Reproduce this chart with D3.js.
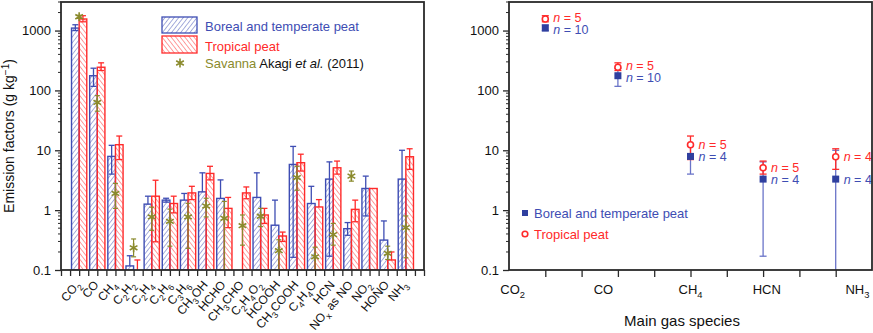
<!DOCTYPE html>
<html>
<head>
<meta charset="utf-8">
<script src="https://cdn.jsdelivr.net/npm/d3@7"></script>
<style>
  body { margin: 0; background: #fff; }
  svg { font-family: "Liberation Sans", Arial, sans-serif; }
</style>
</head>
<body>
<svg width="873" height="333"></svg>
<script>
// species on the left panel ("_" marks a one-char subscript)
let species = ["CO_2", "CO", "CH_4", "C_2H_2", "C_2H_4", "C_2H_6", "C_3H_6", "CH_3OH", "HCHO", "CH_3CHO",
  "C_2H_4O_2", "HCOOH", "CH_3COOH", "C_4H_4O", "HCN", "NO_x as NO", "NO_2", "HONO", "NH_3"]

let borealEF = [1100, 176, 7.9, 0.117, 1.26, 1.47, 1.47, 2.02, 1.57, null, 1.63, 0.56, 5.8, 1.29, 3.3, 0.49, 2.3, 0.316, 3.3]
let borealLo = [1000, 117, 4.0, null, null, 1.36, null, null, null, null, null, null, 0.163, null, 0.17, 0.38, 0.8, null, 0.05]
let borealHi = [1250, 235, 12.1, 0.173, 1.71, 1.58, 1.9, 4.2, 3.2, null, 4.2, 1.47, 11.6, 2.5, 6.4, 0.62, 3.7, 0.66, 10]

let tropicalEF = [1560, 244, 12.4, 0.1, 1.71, 1.29, 1.94, 4.1, 1.07, 1.94, 0.83, 0.37, 6.2, 1.13, 5.1, 1.03, 2.3, 0.147, 7.8]
let tropicalLo = [1400, 215, 7.0, null, 0.296, 0.9, 1.5, 3.2, 0.51, 1.55, 0.6, 0.3, 4.5, null, 4.0, 0.64, null, null, 4.8]
let tropicalHi = [1770, 289, 17.3, 0.147, 3.16, 1.71, 2.5, 5.4, 1.63, 2.44, 1.07, 0.43, 8.6, 1.5, 6.6, 1.47, null, 0.2, 10.6]

let savannaEF = [1700, 63, 1.9, 0.235, 0.77, 0.65, 0.77, 1.17, 0.73, 0.55, 0.79, 0.21, 3.5, 0.166, 0.39, 3.7, null, 0.19, 0.51]
let savannaLo = [1600, 45, 1.07, 0.166, 0.46, 0.25, 0.23, 0.77, 0.1, 0.26, 0.53, 0.1, 2.15, 0.1, 0.26, 3.05, null, 0.15, 0.16]
let savannaHi = [1800, 82, 2.8, 0.33, 1.12, 1.04, 1.3, 1.58, 1.4, 0.83, 1.07, 0.32, 5.4, 0.24, 0.6, 4.5, null, 0.25, 0.8]

// right panel: main gases, taken from the arrays above
let mainGases = ["CO_2", "CO", "CH_4", "HCN", "NH_3"]
let mainPos = [1, 3, 5, 7, 9]
let mainLabelPos = [0.1, 2.6, 5.0, 7.1, 9.6]
let borealN = [10, 10, 4, 4, 4]
let tropicalN = [5, 5, 5, 5, 4]

let yTicks = [0.1, 1, 10, 100, 1000]

let blue = "#3e4db3"
let red = "#ff2a2a"
let olive = "#8a8a2c"
let axisColor = "#2a2a2a"

let plotTop = 2
let plotBottom = 270

let svg = d3.select("svg")

// hatch patterns
let defs = svg.append("defs")
let makeHatch = (id, color, angle) => {
  let p = defs.append("pattern")
    .attr("id", id)
    .attr("patternUnits", "userSpaceOnUse")
    .attr("width", 3.6)
    .attr("height", 3.6)
    .attr("patternTransform", "rotate(" + angle + ")")
  p.append("line")
    .attr("x1", 0).attr("y1", 0).attr("x2", 0).attr("y2", 3.6)
    .attr("stroke", color)
    .attr("stroke-width", 0.9)
}
makeHatch("hatchBlue", blue, 38)
makeHatch("hatchRed", red, -38)

let formula = (sel, label, size) => {
  let shift = 0
  for (let i = 0; i < label.length; i++) {
    if (label[i] === "_") {
      sel.append("tspan")
        .attr("dy", size * 0.32 - shift)
        .attr("font-size", size * 0.72)
        .text(label[i + 1])
      shift = size * 0.32
      i++
    } else {
      let j = i
      while (j < label.length && label[j] !== "_") j++
      sel.append("tspan").attr("dy", -shift).text(label.slice(i, j))
      shift = 0
      i = j - 1
    }
  }
}

let yScale = d3.scaleLog().domain([0.1, 3000]).range([plotBottom, plotTop])

let minorTicks = []
;[0.1, 1, 10, 100, 1000].forEach(d => {
  for (let k = 2; k <= 9; k++) {
    if (d * k <= 3000) minorTicks.push(d * k)
  }
})

let drawYAxis = (x0) => {
  let g = svg.append("g").attr("transform", "translate(" + x0 + ",0)")
  g.call(d3.axisLeft(yScale).tickValues(yTicks).tickFormat(d => d < 1 ? "0.1" : d3.format("d")(d)).tickSize(6).tickPadding(4))
  g.selectAll(".domain").remove()
  g.selectAll("line").attr("stroke", axisColor).attr("stroke-width", 1.3)
  g.selectAll("text").attr("font-size", 13).attr("fill", "#111").style("font-family", "Liberation Sans, Arial")
  g.selectAll(".minor")
    .data(minorTicks)
    .enter()
    .append("line")
    .attr("x1", -3).attr("x2", 0)
    .attr("y1", d => yScale(d)).attr("y2", d => yScale(d))
    .attr("stroke", axisColor)
    .attr("stroke-width", 1)
}

// ---------- left panel ----------
let xLeft = d3.scaleLinear().domain([0, 20]).range([61, 424])
let halfBar = 0.42

drawYAxis(61)

let bottomTicks = d3.range(0, 20.01, 0.5)
let gx = svg.append("g").attr("transform", "translate(0," + plotBottom + ")")
gx.call(d3.axisBottom(xLeft).tickValues(bottomTicks).tickFormat("").tickSize(6))
gx.selectAll(".domain").remove()
gx.selectAll("line").attr("stroke", axisColor).attr("stroke-width", 1.3)

let idx = species.map((d, i) => i)

let clip = svg.append("clipPath").attr("id", "leftClip")
clip.append("rect").attr("x", 61).attr("y", plotTop).attr("width", 363).attr("height", plotBottom - plotTop)

let plot = svg.append("g").attr("clip-path", "url(#leftClip)")

let drawBars = (vals, offset, fill, color) => {
  plot.selectAll(null)
    .data(idx.filter(i => vals[i] !== null))
    .enter()
    .append("rect")
    .attr("x", i => xLeft(i + 1 + offset))
    .attr("width", xLeft(halfBar) - xLeft(0))
    .attr("y", i => yScale(vals[i]))
    .attr("height", i => plotBottom - yScale(vals[i]))
    .attr("fill", fill)
    .attr("stroke", color)
    .attr("stroke-width", 1.4)
}
drawBars(borealEF, -halfBar, "url(#hatchBlue)", blue)
drawBars(tropicalEF, 0, "url(#hatchRed)", red)

let drawErr = (g, xs, vals, lo, hi, color, cap, width) => {
  idx.forEach(i => {
    if (vals[i] === null) return
    let x = xs(i)
    let segs = []
    if (hi[i] !== null) segs.push(hi[i])
    if (lo[i] !== null) segs.push(lo[i])
    segs.forEach(v => {
      g.append("line")
        .attr("x1", x).attr("x2", x)
        .attr("y1", yScale(vals[i])).attr("y2", yScale(v))
        .attr("stroke", color).attr("stroke-width", width)
      g.append("line")
        .attr("x1", x - cap).attr("x2", x + cap)
        .attr("y1", yScale(v)).attr("y2", yScale(v))
        .attr("stroke", color).attr("stroke-width", width)
    })
  })
}
drawErr(plot, i => xLeft(i + 1 - halfBar / 2), borealEF, borealLo, borealHi, blue, 3, 1.3)
drawErr(plot, i => xLeft(i + 1 + halfBar / 2), tropicalEF, tropicalLo, tropicalHi, red, 3, 1.3)
drawErr(plot, i => xLeft(i + 1), savannaEF, savannaLo, savannaHi, olive, 2.5, 1.2)

let star = d3.symbol().type(d3.symbolAsterisk).size(55)
plot.selectAll(null)
  .data(idx.filter(i => savannaEF[i] !== null))
  .enter()
  .append("path")
  .attr("d", star)
  .attr("transform", i => "translate(" + xLeft(i + 1) + "," + yScale(savannaEF[i]) + ")")
  .attr("fill", "none")
  .attr("stroke", olive)
  .attr("stroke-width", 1.6)

// frame
svg.append("rect")
  .attr("x", 61).attr("y", plotTop).attr("width", 363).attr("height", plotBottom - plotTop)
  .attr("fill", "none").attr("stroke", axisColor).attr("stroke-width", 1.8)

// rotated category labels
species.forEach((s, i) => {
  let t = svg.append("text")
    .attr("transform", "translate(" + (xLeft(i + 1) + 2) + "," + 285 + ") rotate(-50)")
    .attr("text-anchor", "end")
    .attr("font-size", 12)
    .attr("fill", "#111")
  formula(t, s, 12)
})

// y title
let yt = svg.append("text")
  .attr("transform", "translate(14," + (plotTop + plotBottom) / 2 + ") rotate(-90)")
  .attr("text-anchor", "middle")
  .attr("font-size", 14)
  .attr("fill", "#111")
yt.append("tspan").text("Emission factors (g kg")
yt.append("tspan").attr("dy", -5).attr("font-size", 10).text("\u22121")
yt.append("tspan").attr("dy", 5).text(")")

// left legend
svg.append("rect").attr("x", 162).attr("y", 17).attr("width", 35).attr("height", 16)
  .attr("fill", "url(#hatchBlue)").attr("stroke", blue).attr("stroke-width", 1.3)
svg.append("rect").attr("x", 162).attr("y", 36).attr("width", 35).attr("height", 17)
  .attr("fill", "url(#hatchRed)").attr("stroke", red).attr("stroke-width", 1.3)
svg.append("path").attr("d", star).attr("transform", "translate(180,63)")
  .attr("fill", "none").attr("stroke", olive).attr("stroke-width", 1.6)
svg.append("text").attr("x", 205).attr("y", 31).attr("font-size", 13).attr("fill", blue).text("Boreal and temperate peat")
svg.append("text").attr("x", 205).attr("y", 51).attr("font-size", 13).attr("fill", red).text("Tropical peat")
let sv = svg.append("text").attr("x", 205).attr("y", 68).attr("font-size", 13).attr("fill", "#111")
sv.append("tspan").attr("fill", olive).text("Savanna")
sv.append("tspan").text(" Akagi ")
sv.append("tspan").attr("font-style", "italic").text("et al.")
sv.append("tspan").text(" (2011)")

// ---------- right panel ----------
let xRight = d3.scaleLinear().domain([0, 10]).range([509, 872])

drawYAxis(509)

let gx2 = svg.append("g").attr("transform", "translate(0," + plotBottom + ")")
gx2.call(d3.axisBottom(xRight).tickValues(d3.range(1, 10)).tickFormat("").tickSize(7))
gx2.selectAll(".domain").remove()
gx2.selectAll("line").attr("stroke", axisColor).attr("stroke-width", 1.3)

let mainIdx = mainGases.map(g => species.indexOf(g))

let clip2 = svg.append("clipPath").attr("id", "rightClip")
clip2.append("rect").attr("x", 509).attr("y", plotTop).attr("width", 363).attr("height", plotBottom - plotTop)
let plot2 = svg.append("g").attr("clip-path", "url(#rightClip)")

let drawPointErr = (vals, lo, hi, color) => {
  mainIdx.forEach((si, k) => {
    let x = xRight(mainPos[k])
    ;[lo[si], hi[si]].forEach(v => {
      if (v === null) return
      plot2.append("line")
        .attr("x1", x).attr("x2", x)
        .attr("y1", yScale(vals[si])).attr("y2", yScale(v))
        .attr("stroke", color).attr("stroke-width", 1.3)
      plot2.append("line")
        .attr("x1", x - 3.5).attr("x2", x + 3.5)
        .attr("y1", yScale(v)).attr("y2", yScale(v))
        .attr("stroke", color).attr("stroke-width", 1.3)
    })
  })
}
drawPointErr(borealEF, borealLo, borealHi, "#6a74c8")
drawPointErr(tropicalEF, tropicalLo, tropicalHi, red)

plot2.selectAll(null)
  .data(mainIdx)
  .enter()
  .append("rect")
  .attr("x", (si, k) => xRight(mainPos[k]) - 3.5)
  .attr("y", si => yScale(borealEF[si]) - 3.5)
  .attr("width", 7).attr("height", 7)
  .attr("fill", "#2f3f9f")

plot2.selectAll(null)
  .data(mainIdx)
  .enter()
  .append("circle")
  .attr("cx", (si, k) => xRight(mainPos[k]))
  .attr("cy", si => yScale(tropicalEF[si]))
  .attr("r", 3)
  .attr("fill", "#fff")
  .attr("stroke", red)
  .attr("stroke-width", 1.6)

let nLabel = (x, y, n, color) => {
  let t = svg.append("text").attr("x", x).attr("y", y + 4.5).attr("font-size", 12.5).attr("fill", color)
  t.append("tspan").attr("font-style", "italic").text("n")
  t.append("tspan").text(" = " + n)
}
mainIdx.forEach((si, k) => {
  let x = xRight(mainPos[k]) + 8
  let yr = yScale(tropicalEF[si])
  let yb = yScale(borealEF[si])
  let gap = yb - yr
  if (gap < 12.5) {
    yr -= (12.5 - gap) / 2
    yb += (12.5 - gap) / 2
  }
  nLabel(x, yr, tropicalN[k], red)
  nLabel(x, yb, borealN[k], blue)
})

svg.append("rect")
  .attr("x", 509).attr("y", plotTop).attr("width", 363).attr("height", plotBottom - plotTop)
  .attr("fill", "none").attr("stroke", axisColor).attr("stroke-width", 1.8)

mainGases.forEach((g, k) => {
  let t = svg.append("text")
    .attr("x", xRight(mainLabelPos[k]))
    .attr("y", 294)
    .attr("text-anchor", "middle")
    .attr("font-size", 13)
    .attr("fill", "#111")
  formula(t, g, 13)
})

svg.append("text").attr("x", 682).attr("y", 326).attr("text-anchor", "middle")
  .attr("font-size", 15).attr("fill", "#111").text("Main gas species")

// right legend
svg.append("rect").attr("x", 522).attr("y", 210).attr("width", 6).attr("height", 6).attr("fill", "#2f3f9f")
svg.append("circle").attr("cx", 525).attr("cy", 234).attr("r", 2.8).attr("fill", "#fff").attr("stroke", red).attr("stroke-width", 1.6)
svg.append("text").attr("x", 534).attr("y", 218).attr("font-size", 13).attr("fill", blue).text("Boreal and temperate peat")
svg.append("text").attr("x", 534).attr("y", 239).attr("font-size", 13).attr("fill", red).text("Tropical peat")
</script>
</body>
</html>
